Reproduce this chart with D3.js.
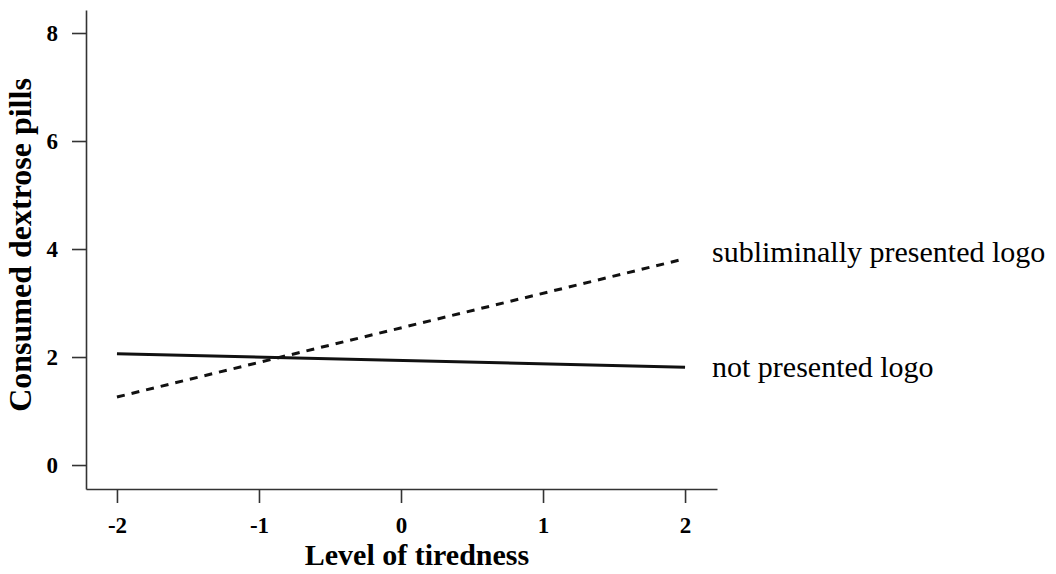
<!DOCTYPE html>
<html>
<head>
<meta charset="utf-8">
<script src="https://cdn.jsdelivr.net/npm/d3@7"></script>
<style>
  body { margin: 0; background: #fff; }
  .domain, .tick line { stroke: #333; stroke-width: 1.6px; }
</style>
</head>
<body>
<script>
// tiredness levels on the x axis
var tiredness = [-2, 2];
// predicted pills for each condition
var subliminalLogo = [1.26, 3.82];
var noLogo = [2.06, 1.81];
var seriesNames = ["subliminally presented logo", "not presented logo"];
var yTicks = [0, 2, 4, 6, 8];
var xTicks = [-2, -1, 0, 1, 2];

window.onload = drawChart();

function drawChart(){
    var width = 1056,
        height = 574;

    var svg = d3.select("body")
        .append("svg")
        .attr("width", width)
        .attr("height", height);

    //scales, domain slightly wider than the ticks so the axis lines overshoot
    var x = d3.scaleLinear()
        .domain([-2.218, 2.225])
        .range([86, 717]);

    var y = d3.scaleLinear()
        .domain([-0.444, 8.426])
        .range([489, 10]);

    //x axis
    var xAxis = svg.append("g")
        .attr("transform", "translate(0,489)")
        .call(d3.axisBottom(x).tickValues(xTicks).tickSizeInner(14).tickSizeOuter(0).tickPadding(14)
            .tickFormat(function(d){ return d < 0 ? "-" + Math.abs(d) : d; }));

    //y axis
    var yAxis = svg.append("g")
        .attr("transform", "translate(86,0)")
        .call(d3.axisLeft(y).tickValues(yTicks).tickSizeInner(14).tickSizeOuter(0).tickPadding(14)
            .tickFormat(d3.format("d")));

    svg.selectAll(".tick text")
        .attr("font-family", "Liberation Serif, serif")
        .attr("font-weight", "bold")
        .attr("font-size", 23)
        .attr("fill", "#000");

    var line = d3.line()
        .x(function(d, i){ return x(tiredness[i]); })
        .y(function(d){ return y(d); });

    //solid line: no logo
    svg.append("path")
        .datum(noLogo)
        .attr("d", line)
        .attr("fill", "none")
        .attr("stroke", "#111")
        .attr("stroke-width", 3);

    //dashed line: subliminal logo
    svg.append("path")
        .datum(subliminalLogo)
        .attr("d", line)
        .attr("fill", "none")
        .attr("stroke", "#111")
        .attr("stroke-width", 3)
        .attr("stroke-dasharray", "8,7");

    //line labels
    svg.selectAll(".series-label")
        .data([subliminalLogo, noLogo])
        .enter()
        .append("text")
        .attr("class", "series-label")
        .attr("x", 712)
        .attr("y", function(d, i){ return i == 0 ? 262 : 377; })
        .style("font-family", "Liberation Serif, serif")
        .style("font-size", "30px")
        .text(function(d, i){ return seriesNames[i]; });

    //axis titles
    svg.append("text")
        .attr("x", 417)
        .attr("y", 565)
        .attr("text-anchor", "middle")
        .style("font-family", "Liberation Serif, serif")
        .style("font-weight", "bold")
        .style("font-size", "30px")
        .text("Level of tiredness");

    svg.append("text")
        .attr("transform", "translate(31,245) rotate(-90)")
        .attr("text-anchor", "middle")
        .style("font-family", "Liberation Serif, serif")
        .style("font-weight", "bold")
        .style("font-size", "32px")
        .text("Consumed dextrose pills");
}
</script>
</body>
</html>
